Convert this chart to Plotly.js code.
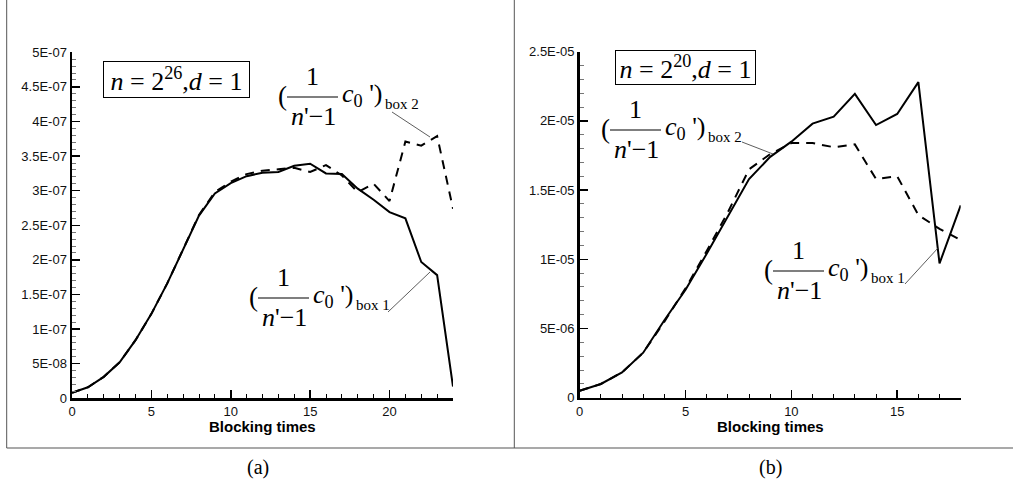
<!DOCTYPE html>
<html>
<head>
<meta charset="utf-8">
<script src="https://cdn.plot.ly/plotly-3.0.1.min.js"></script>
<style>html,body{margin:0;padding:0;background:#fff;}#chart{width:1013px;height:492px;}</style>
</head>
<body>
<div id="chart"></div>
<script>
// ---------- data ----------
const blockingA = [0,1,2,3,4,5,6,7,8,9,10,11,12,13,14,15,16,17,18,19,20,21,22,23,24];
const box1A = [8e-9,1.6e-8,3.1e-8,5.2e-8,8.4e-8,1.22e-7,1.66e-7,2.16e-7,2.64e-7,2.96e-7,3.11e-7,3.21e-7,3.26e-7,3.27e-7,3.36e-7,3.39e-7,3.25e-7,3.24e-7,3.03e-7,2.87e-7,2.69e-7,2.60e-7,1.97e-7,1.78e-7,1.7e-8];
const box2A = [8e-9,1.6e-8,3.1e-8,5.2e-8,8.4e-8,1.22e-7,1.66e-7,2.16e-7,2.65e-7,2.98e-7,3.13e-7,3.24e-7,3.29e-7,3.31e-7,3.33e-7,3.27e-7,3.37e-7,3.22e-7,2.98e-7,3.10e-7,2.85e-7,3.71e-7,3.65e-7,3.79e-7,2.74e-7];

const blockingB = [0,1,2,3,4,5,6,7,8,9,10,11,12,13,14,15,16,17,18];
const box1B = [5e-7,9.9e-7,1.83e-6,3.25e-6,5.6e-6,7.8e-6,1.04e-5,1.31e-5,1.58e-5,1.74e-5,1.85e-5,1.98e-5,2.03e-5,2.195e-5,1.97e-5,2.05e-5,2.28e-5,9.7e-6,1.39e-5];
const box2B = [5e-7,9.9e-7,1.83e-6,3.25e-6,5.5e-6,7.9e-6,1.06e-5,1.34e-5,1.65e-5,1.76e-5,1.84e-5,1.84e-5,1.81e-5,1.83e-5,1.58e-5,1.60e-5,1.32e-5,1.22e-5,1.14e-5];

const xTicksA = [0,5,10,15,20];
const xTicksB = [0,5,10,15];
const yTickValsA = [0,5e-8,1e-7,1.5e-7,2e-7,2.5e-7,3e-7,3.5e-7,4e-7,4.5e-7,5e-7];
const yTickTextA = ["0","5E-08","1E-07","1.5E-07","2E-07","2.5E-07","3E-07","3.5E-07","4E-07","4.5E-07","5E-07"];
const yTickValsB = [0,5e-6,1e-5,1.5e-5,2e-5,2.5e-5];
const yTickTextB = ["0","5E-06","1E-05","1.5E-05","2E-05","2.5E-05"];

const xTitle = "Blocking times";
const boxLabelA = "<i>n</i> = 2<sup>26</sup>,<i>d</i> = 1";
const boxLabelB = "<i>n</i> = 2<sup>20</sup>,<i>d</i> = 1";
const panelLabels = ["(a)", "(b)"];

// ---------- layout helpers ----------
const W = 1013, H = 492;
const px = x => x / W;
const py = y => 1 - y / H;
const serif = "Liberation Serif";
const sans = "Liberation Sans";

const annotations = [];
const shapes = [];

function ann(x, y, text, opts) {
  annotations.push(Object.assign({
    xref: 'paper', yref: 'paper', x: px(x), y: py(y), text: text,
    showarrow: false, xanchor: 'center', yanchor: 'middle',
    font: {family: serif, size: 24, color: '#000'}
  }, opts || {}));
}
function line(x0, y0, x1, y1, w, c) {
  shapes.push({type: 'line', xref: 'paper', yref: 'paper',
    x0: px(x0), y0: py(y0), x1: px(x1), y1: py(y1),
    line: {color: c || '#000', width: w || 1}});
}
function frac(xp, yb, sub) {
  ann(xp - 1, yb - 1, "(", {xanchor: 'left', font: {family: serif, size: 27, color: '#000'}});
  ann(xp + 35, yb - 4, "1", {yanchor: 'bottom', font: {family: serif, size: 26, color: '#000'}});
  line(xp + 10, yb, xp + 61, yb, 1.2);
  ann(xp + 36, yb + 3, "<i>n</i>'−1", {yanchor: 'top', font: {family: serif, size: 26, color: '#000'}});
  ann(xp + 63, yb - 2, "<i>c</i><sub>0</sub> ')", {xanchor: 'left', font: {family: serif, size: 26, color: '#000'}});
  ann(xp + 106, yb + 7, sub, {xanchor: 'left', font: {family: serif, size: 15, color: '#000'}});
}

// fraction labels
frac(277, 97, "box 2");
frac(248, 298, "box 1");
frac(600, 130, "box 2");
frac(763, 271, "box 1");
// leader lines
line(392, 112, 430, 137, 0.8, '#333');
line(388, 312, 430, 272, 0.8, '#333');
line(742, 142, 773, 154, 0.8, '#333');
line(905, 284, 938, 248, 0.8, '#333');

// boxed parameter labels
ann(176.5, 79.5, boxLabelA, {width: 143, height: 33, bordercolor: '#000', borderwidth: 1, borderpad: 1, bgcolor: '#fff',
  font: {family: serif, size: 26, color: '#000'}});
ann(685.5, 68, boxLabelB, {width: 137, height: 31, bordercolor: '#000', borderwidth: 1, borderpad: 1, bgcolor: '#fff',
  font: {family: serif, size: 26, color: '#000'}});

// panel labels
ann(258, 467, panelLabels[0], {font: {family: serif, size: 20, color: '#000'}});
ann(770, 467, panelLabels[1], {font: {family: serif, size: 20, color: '#000'}});

// x axis titles
ann(262.5, 426, "<b>" + xTitle + "</b>", {font: {family: sans, size: 15, color: '#000'}});
ann(770.5, 426, "<b>" + xTitle + "</b>", {font: {family: sans, size: 15, color: '#000'}});

// frames
line(6.7, 0, 6.7, 448, 1, '#555');
line(514.3, 0, 514.3, 448, 1, '#555');
line(6.7, 448, 1013, 448, 1.2, '#555');

// ---------- traces ----------
const traces = [
  {x: blockingA, y: box1A, xaxis: 'x', yaxis: 'y', mode: 'lines', line: {color: '#000', width: 2}, name: 'box 1'},
  {x: blockingA, y: box2A, xaxis: 'x', yaxis: 'y', mode: 'lines', line: {color: '#000', width: 2, dash: '9px,7px'}, name: 'box 2'},
  {x: blockingB, y: box1B, xaxis: 'x2', yaxis: 'y2', mode: 'lines', line: {color: '#000', width: 2}, name: 'box 1'},
  {x: blockingB, y: box2B, xaxis: 'x2', yaxis: 'y2', mode: 'lines', line: {color: '#000', width: 2, dash: '9px,7px'}, name: 'box 2'}
];

const axisCommon = {
  showline: true, linecolor: '#000', linewidth: 2.5, showgrid: false, zeroline: false,
  ticks: 'inside', ticklen: 8, tickwidth: 1.5, tickcolor: '#000',
  tickfont: {family: sans, size: 13, color: '#111'}, fixedrange: true
};

const layout = {
  width: W, height: H, margin: {l: 0, r: 0, t: 0, b: 0},
  paper_bgcolor: '#fff', plot_bgcolor: 'rgba(0,0,0,0)', showlegend: false, hovermode: false,
  xaxis: Object.assign({}, axisCommon, {domain: [px(72), px(453)], range: [0, 24], tickmode: 'array', tickvals: xTicksA,
    minor: {ticks: 'inside', ticklen: 4, tickwidth: 1, tickcolor: '#000', dtick: 1}, anchor: 'y'}),
  yaxis: Object.assign({}, axisCommon, {domain: [py(398.3), py(52.3)], range: [0, 5e-7], tickmode: 'array', tickvals: yTickValsA, ticktext: yTickTextA,
    minor: {ticks: 'inside', ticklen: 4, tickwidth: 1, tickcolor: '#777', dtick: 1e-8}, anchor: 'x'}),
  xaxis2: Object.assign({}, axisCommon, {domain: [px(579.7), px(960.7)], range: [0, 18], tickmode: 'array', tickvals: xTicksB,
    minor: {ticks: 'inside', ticklen: 4, tickwidth: 1, tickcolor: '#000', dtick: 1}, anchor: 'y2'}),
  yaxis2: Object.assign({}, axisCommon, {domain: [py(397.7), py(51.7)], range: [0, 2.5e-5], tickmode: 'array', tickvals: yTickValsB, ticktext: yTickTextB,
    minor: {ticks: 'inside', ticklen: 4, tickwidth: 1, tickcolor: '#777', dtick: 1e-6}, anchor: 'x2'}),
  annotations: annotations,
  shapes: shapes
};

Plotly.newPlot('chart', traces, layout, {displayModeBar: false, staticPlot: true});
</script>
</body>
</html>
